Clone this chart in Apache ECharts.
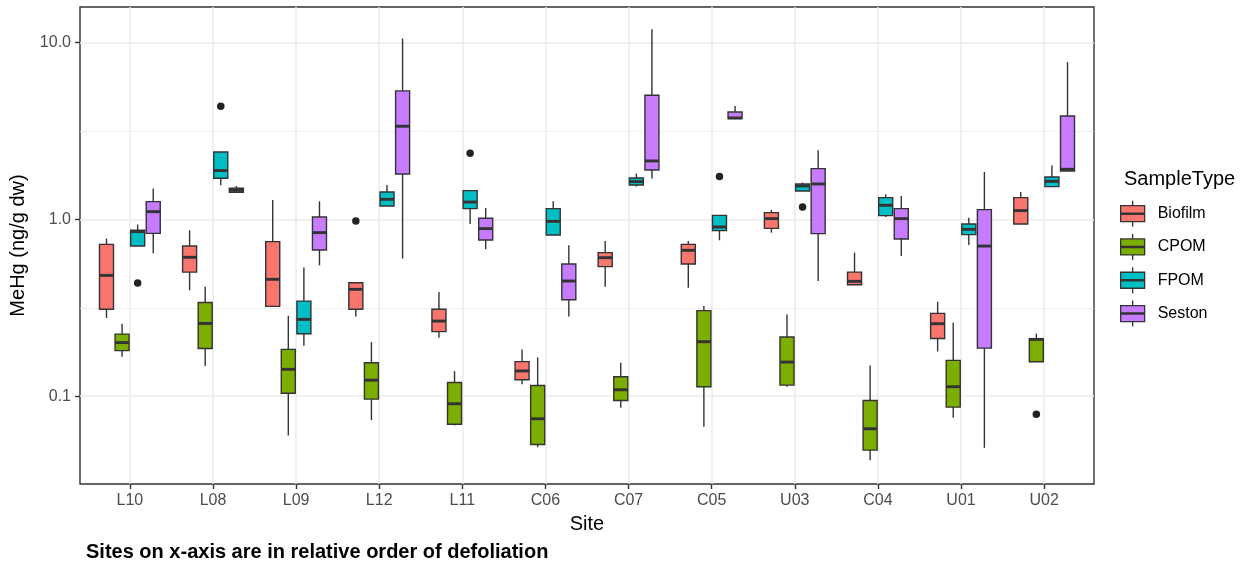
<!DOCTYPE html>
<html>
<head>
<meta charset="utf-8">
<script src="https://cdn.jsdelivr.net/npm/echarts@6/dist/echarts.min.js"></script>
<style>
  html, body { margin: 0; padding: 0; background: #ffffff; }
  #chart { width: 1247px; height: 567px; }
</style>
</head>
<body>
<div id="chart"></div>
<script>
// Sites, in relative order of defoliation
const sites = ['L10', 'L08', 'L09', 'L12', 'L11', 'C06', 'C07', 'C05', 'U03', 'C04', 'U01', 'U02'];
const sampleTypes = ['Biofilm', 'CPOM', 'FPOM', 'Seston'];
const typeColors = ['#F8766D', '#7CAE00', '#00BFC4', '#C77CFF'];
const yTickValues = [0.1, 1, 10];
const yMinorValues = [0.3162, 3.162];

// Box statistics per site: [lower whisker, Q1, median, Q3, upper whisker], MeHg ng/g dw
const biofilm = [
  [0.277, 0.310, 0.482, 0.722, 0.778],
  [0.397, 0.503, 0.610, 0.706, 0.867],
  [0.322, 0.322, 0.458, 0.748, 1.286],
  [0.282, 0.310, 0.402, 0.438, 0.438],
  [0.214, 0.232, 0.266, 0.310, 0.388],
  [0.117, 0.124, 0.139, 0.157, 0.184],
  [0.416, 0.540, 0.607, 0.648, 0.754],
  [0.411, 0.559, 0.668, 0.722, 0.754],
  [0.841, 0.889, 1.009, 1.091, 1.129],
  [0.427, 0.427, 0.446, 0.503, 0.648],
  [0.179, 0.212, 0.257, 0.294, 0.342],
  [0.941, 0.941, 1.120, 1.327, 1.427]
];
const cpom = [
  [0.167, 0.181, 0.201, 0.2245, 0.257],
  [0.148, 0.186, 0.258, 0.339, 0.416],
  [0.060, 0.104, 0.142, 0.184, 0.285],
  [0.0733, 0.0963, 0.1233, 0.1547, 0.2023],
  [0.0684, 0.0695, 0.0907, 0.1197, 0.1387],
  [0.0515, 0.0534, 0.0746, 0.115, 0.1657],
  [0.0861, 0.0947, 0.1088, 0.129, 0.1547],
  [0.0672, 0.1132, 0.2033, 0.3046, 0.3233],
  [0.1132, 0.1156, 0.156, 0.216, 0.290],
  [0.0435, 0.0496, 0.0655, 0.0947, 0.1494],
  [0.0755, 0.0868, 0.1132, 0.1594, 0.2604],
  [0.1567, 0.1567, 0.2096, 0.2115, 0.2257]
];
const fpom = [
  [0.706, 0.706, 0.852, 0.867, 0.933],
  [1.557, 1.706, 1.886, 2.400, 2.400],
  [0.193, 0.2257, 0.272, 0.345, 0.535],
  [1.189, 1.189, 1.298, 1.427, 1.563],
  [0.941, 1.1495, 1.252, 1.453, 1.453],
  [0.815, 0.815, 0.974, 1.1495, 1.264],
  [1.531, 1.563, 1.634, 1.713, 1.813],
  [0.761, 0.863, 0.905, 1.053, 1.053],
  [1.446, 1.446, 1.543, 1.584, 1.613],
  [1.030, 1.049, 1.200, 1.327, 1.385],
  [0.716, 0.819, 0.878, 0.941, 1.022],
  [1.531, 1.531, 1.640, 1.735, 2.012]
];
const seston = [
  [0.642, 0.833, 1.105, 1.259, 1.491],
  [1.421, 1.421, 1.459, 1.497, 1.543],
  [0.549, 0.671, 0.841, 1.030, 1.264],
  [0.5995, 1.804, 3.357, 5.318, 10.52],
  [0.677, 0.764, 0.886, 1.013, 1.159],
  [0.282, 0.351, 0.448, 0.559, 0.713],
  [1.699, 1.900, 2.137, 5.030, 11.88],
  [3.710, 3.710, 3.740, 4.045, 4.373],
  [0.448, 0.830, 1.584, 1.935, 2.455],
  [0.620, 0.774, 1.009, 1.1495, 1.355],
  [0.0511, 0.187, 0.706, 1.135, 1.851],
  [1.876, 1.876, 1.918, 3.840, 7.730]
];
// Outlying observations: [site, sample type, value]
const outliers = [
  ['L10', 'FPOM', 0.436],
  ['L08', 'FPOM', 4.36],
  ['L12', 'Biofilm', 0.978],
  ['L11', 'FPOM', 2.362],
  ['C05', 'FPOM', 1.744],
  ['U03', 'FPOM', 1.174],
  ['U02', 'CPOM', 0.0792]
];

const typeStats = [biofilm, cpom, fpom, seston];
const FONT = '"Liberation Sans", Arial, sans-serif';
const INK = '#333333';

// Dodged box layout: 4 groups share 0.75 of a site slot, each box padded by 10%
const dodgeStep = 0.75 / sampleTypes.length;
const boxHalf = dodgeStep * 0.9 / 2;
const offsetOf = t => (t - (sampleTypes.length - 1) / 2) * dodgeStep;

const boxSeries = sampleTypes.map((name, t) => ({
  name: name,
  type: 'custom',
  itemStyle: { color: typeColors[t] },
  encode: { x: 0, y: [1, 2, 3, 4, 5] },
  data: typeStats[t].map((s, i) => [i + 1].concat(s)),
  renderItem: (params, api) => {
    const x = api.value(0) + offsetOf(t);
    const lo = api.value(1), q1 = api.value(2), md = api.value(3), q3 = api.value(4), hi = api.value(5);
    const xl = api.coord([x - boxHalf, md])[0];
    const xr = api.coord([x + boxHalf, md])[0];
    const xc = api.coord([x, md])[0];
    const y = v => api.coord([x, v])[1];
    const lw = 1.4;
    return {
      type: 'group',
      children: [
        { type: 'line', shape: { x1: xc, y1: y(hi), x2: xc, y2: y(q3) }, style: { stroke: INK, lineWidth: lw } },
        { type: 'line', shape: { x1: xc, y1: y(q1), x2: xc, y2: y(lo) }, style: { stroke: INK, lineWidth: lw } },
        { type: 'rect', shape: { x: xl, y: y(q3), width: xr - xl, height: y(q1) - y(q3) },
          style: { fill: typeColors[t], stroke: INK, lineWidth: lw } },
        { type: 'line', shape: { x1: xl, y1: y(md), x2: xr, y2: y(md) }, style: { stroke: INK, lineWidth: 2.9 } }
      ]
    };
  }
}));

const outlierSeries = {
  name: 'outliers',
  type: 'scatter',
  symbol: 'circle',
  symbolSize: 7.5,
  itemStyle: { color: '#222222', opacity: 1 },
  data: outliers.map(o => [sites.indexOf(o[0]) + 1 + offsetOf(sampleTypes.indexOf(o[1])), o[2]]),
  z: 5
};

// Boxplot key: whiskers, box, median
const keyIcon = 'path://M0,5L24,5L24,21L0,21Z M0,12.4L24,12.4L24,13.6L0,13.6Z M12,0L12,5 M12,21L12,26';

const chart = echarts.init(document.getElementById('chart'), null, { renderer: 'canvas' });
chart.setOption({
  animation: false,
  backgroundColor: '#ffffff',
  textStyle: { fontFamily: FONT },
  title: [
    {
      text: 'Sites on x-axis are in relative order of defoliation',
      left: 86, top: 542, padding: 0,
      textStyle: { fontFamily: FONT, fontSize: 20, fontWeight: 'bold', color: '#000000' }
    },
    {
      text: 'SampleType',
      left: 1124, top: 169, padding: 0,
      textStyle: { fontFamily: FONT, fontSize: 20, fontWeight: 'normal', color: '#000000' }
    }
  ],
  legend: {
    data: sampleTypes.map(n => ({ name: n, icon: keyIcon })),
    orient: 'vertical',
    left: 1120, top: 200, padding: 0,
    itemWidth: 40, itemHeight: 26, itemGap: 6,
    symbolKeepAspect: true,
    selectedMode: false,
    itemStyle: { borderColor: INK, borderWidth: 1.3 },
    textStyle: { fontFamily: FONT, fontSize: 16, color: '#000000' }
  },
  grid: {
    left: 80, right: 153, top: 7, bottom: 83,
    show: true, borderColor: INK, borderWidth: 1.4, backgroundColor: '#ffffff',
    outerBoundsMode: 'none', containLabel: false
  },
  xAxis: {
    type: 'value',
    min: 0.4, max: 12.6,
    name: 'Site', nameLocation: 'middle', nameGap: 30,
    nameTextStyle: { fontFamily: FONT, fontSize: 20, color: '#000000' },
    axisLine: { show: false },
    axisTick: { show: true, length: 5, customValues: sites.map((s, i) => i + 1), lineStyle: { color: INK, width: 1.4 } },
    axisLabel: {
      customValues: sites.map((s, i) => i + 1),
      formatter: v => sites[Math.round(v) - 1],
      margin: 9, fontFamily: FONT, fontSize: 16, color: '#4D4D4D'
    },
    splitLine: { show: true, lineStyle: { color: '#EBEBEB', width: 1.5 } }
  },
  yAxis: [
    {
      type: 'log', logBase: 10,
      min: Math.pow(10, -1.496), max: Math.pow(10, 1.2),
      name: 'MeHg (ng/g dw)', nameLocation: 'middle', nameGap: 49,
      nameTextStyle: { fontFamily: FONT, fontSize: 20, color: '#000000' },
      axisLine: { show: false },
      axisTick: { show: true, length: 5, customValues: yTickValues, lineStyle: { color: INK, width: 1.4 } },
      axisLabel: {
        customValues: yTickValues,
        formatter: v => Number(v).toFixed(1),
        margin: 9, fontFamily: FONT, fontSize: 16, color: '#4D4D4D'
      },
      splitLine: { show: true, lineStyle: { color: '#EBEBEB', width: 1.5 } },
      minorSplitLine: { show: false }
    },
    {
      type: 'log', logBase: 10,
      min: Math.pow(10, -1.496), max: Math.pow(10, 1.2),
      axisLine: { show: false },
      axisTick: { show: false, customValues: yMinorValues },
      axisLabel: { show: false, customValues: yMinorValues },
      splitLine: { show: true, lineStyle: { color: '#EBEBEB', width: 0.8 } }
    }
  ],
  series: boxSeries.concat([outlierSeries])
});
</script>
</body>
</html>
